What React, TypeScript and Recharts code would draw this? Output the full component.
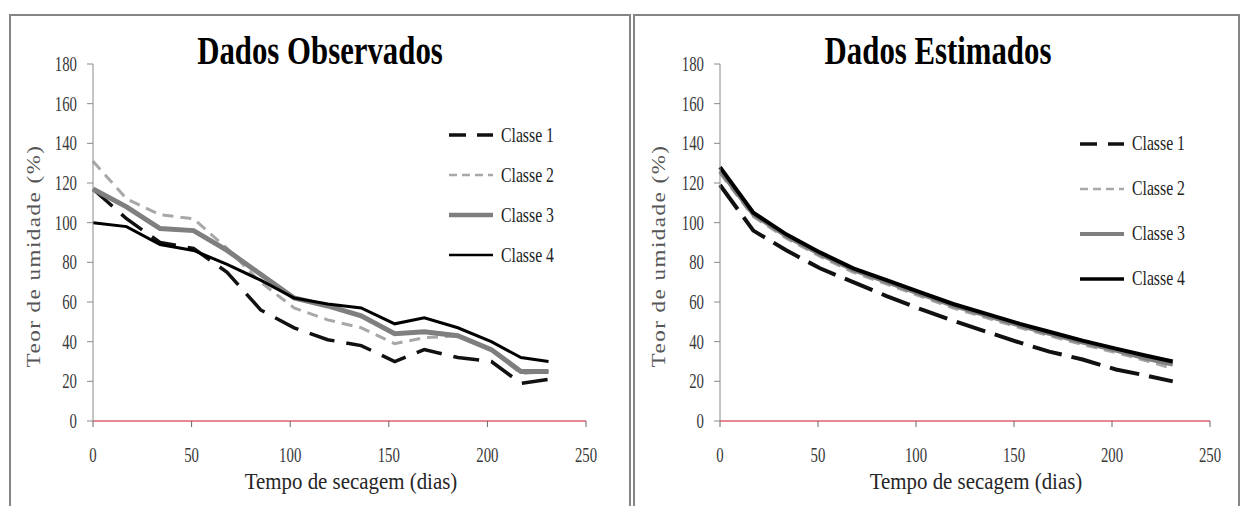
import React from 'react';
import { LineChart, Line, XAxis, YAxis, Legend } from 'recharts';

const days = [0, 17, 34, 51, 68, 85, 102, 119, 136, 153, 168, 185, 202, 217, 231];

const obsClasse1 = [117, 102, 90, 87, 75, 56, 47, 41, 38, 30, 36, 32, 30, 19, 21];
const obsClasse2 = [131, 112, 104, 102, 87, 70, 57, 51, 47, 39, 42, 43, 36, 24, 25];
const obsClasse3 = [117, 108, 97, 96, 86, 74, 62, 58, 53, 44, 45, 43, 36, 25, 25];
const obsClasse4 = [100, 98, 89, 86, 79, 71, 62, 59, 57, 49, 52, 47, 40, 32, 30];

const estClasse1 = [119, 96, 86, 77, 70, 63, 56.5, 50.5, 45, 39.5, 35, 31, 26, 23, 20];
const estClasse2 = [125, 103, 92, 83, 75, 69, 63, 57, 52, 47, 43, 38.5, 34.5, 30.5, 26.5];
const estClasse3 = [126, 104, 93, 84, 76, 70, 64, 58, 53, 48, 44, 39.5, 35.5, 31.5, 28.5];
const estClasse4 = [128, 105, 94, 85, 77, 71, 65, 59, 54, 49, 45, 40.5, 36.5, 33, 30];

const classNames = ['Classe 1', 'Classe 2', 'Classe 3', 'Classe 4'];
const xTicks = [0, 50, 100, 150, 200, 250];
const yTicks = [0, 20, 40, 60, 80, 100, 120, 140, 160, 180];

const obsData = days.map((d, i) => ({ x: d, c1: obsClasse1[i], c2: obsClasse2[i], c3: obsClasse3[i], c4: obsClasse4[i] }));
const estData = days.map((d, i) => ({ x: d, c1: estClasse1[i], c2: estClasse2[i], c3: estClasse3[i], c4: estClasse4[i] }));

const SERIF = '"Liberation Serif", "Times New Roman", serif';

type Style = { key: string; color: string; width: number; dash?: string; legendDash?: string; legendWidth: number };

const obsStyles: Style[] = [
  { key: 'c1', color: '#111111', width: 3.5, dash: '26 12', legendDash: '17 11', legendWidth: 3.5 },
  { key: 'c2', color: '#a8a8a8', width: 3, dash: '11 7', legendDash: '8 5', legendWidth: 2.5 },
  { key: 'c3', color: '#7f7f7f', width: 5, legendWidth: 4.5 },
  { key: 'c4', color: '#000000', width: 3, legendWidth: 2.5 },
];
const estStyles: Style[] = [
  { key: 'c1', color: '#111111', width: 4, dash: '30 10', legendDash: '17 11', legendWidth: 3.5 },
  { key: 'c2', color: '#a8a8a8', width: 3, dash: '11 7', legendDash: '8 5', legendWidth: 2.5 },
  { key: 'c3', color: '#7f7f7f', width: 4, legendWidth: 4 },
  { key: 'c4', color: '#000000', width: 4, legendWidth: 3.5 },
];

const XTick = (props: any) => {
  const { x, y, payload } = props;
  return (
    <text transform={`translate(${x},${y}) scale(0.74,1)`} textAnchor="middle" dy="0.71em"
      fontFamily={SERIF} fontSize={20} fill="#3a3a3a">{payload.value}</text>
  );
};
const YTick = (props: any) => {
  const { x, y, payload } = props;
  return (
    <text transform={`translate(${x},${y}) scale(0.74,1)`} textAnchor="end" dy="0.35em"
      fontFamily={SERIF} fontSize={20} fill="#3a3a3a">{payload.value}</text>
  );
};

const makeLegend = (styles: Style[], rowH: number) => () => (
  <div style={{ display: 'flex', flexDirection: 'column' }}>
    {styles.map((s, i) => (
      <div key={s.key} style={{ height: rowH, display: 'flex', alignItems: 'center' }}>
        <svg width={46} height={10} style={{ display: 'block' }}>
          <line x1={0} y1={5} x2={44} y2={5} stroke={s.color} strokeWidth={s.legendWidth} strokeDasharray={s.legendDash} />
        </svg>
        <span style={{ fontFamily: SERIF, fontSize: 21, color: '#222', marginLeft: 6, display: 'inline-block', transform: 'scaleX(0.75)', transformOrigin: 'left center', whiteSpace: 'nowrap' }}>{classNames[i]}</span>
      </div>
    ))}
  </div>
);

type PanelProps = {
  left: number; width: number; yAxisWidth: number; rightMargin: number;
  data: any[]; styles: Style[]; legendLeft: number; legendTop: number; legendRow: number;
};

const Panel = ({ left, width, yAxisWidth, rightMargin, data, styles, legendLeft, legendTop, legendRow }: PanelProps) => (
  <div style={{ position: 'absolute', left, top: 0 }}>
    <LineChart width={width} height={506} data={data} margin={{ top: 64, right: rightMargin, bottom: 0, left: 0 }}>
      <XAxis type="number" dataKey="x" domain={[0, 250]} ticks={xTicks} height={85}
        axisLine={{ stroke: '#e0606e', strokeWidth: 1.5 }} tickLine={{ stroke: '#666' }} tickSize={6} tickMargin={21}
        tick={<XTick />} interval={0} />
      <YAxis type="number" domain={[0, 180]} ticks={yTicks} width={yAxisWidth}
        axisLine={{ stroke: '#8a8a8a' }} tickLine={{ stroke: '#8a8a8a' }} tickSize={6} tickMargin={10}
        tick={<YTick />} interval={0} />
      <Legend layout="vertical" align="center" verticalAlign="middle"
        wrapperStyle={{ left: legendLeft - left, top: legendTop, width: 'auto' }}
        content={makeLegend(styles, legendRow)} />
      {styles.map((s, i) => (
        <Line key={s.key} type="linear" dataKey={s.key} name={classNames[i]} stroke={s.color} strokeWidth={s.width}
          strokeDasharray={s.dash} dot={false} activeDot={false} isAnimationActive={false} />
      ))}
    </LineChart>
  </div>
);

const TextBox = ({ cx, cy, w, h, children, style }: any) => (
  <div style={{ position: 'absolute', left: cx - w / 2, top: cy - h / 2, width: w, height: h, lineHeight: `${h}px`, textAlign: 'center', whiteSpace: 'nowrap', ...style }}>
    {children}
  </div>
);

export default function App() {
  return (
    <div style={{ position: 'absolute', left: 0, top: 0, width: 1241, height: 506, background: '#fff', overflow: 'hidden' }}>
      <div style={{ position: 'absolute', left: 9, top: 14, width: 618, height: 500, border: '2px solid #858585', borderBottom: 'none' }} />
      <div style={{ position: 'absolute', left: 633, top: 14, width: 603, height: 500, border: '2px solid #858585', borderBottom: 'none' }} />

      <Panel left={0} width={630} yAxisWidth={93} rightMargin={44} data={obsData} styles={obsStyles}
        legendLeft={449} legendTop={115} legendRow={40} />
      <Panel left={630} width={611} yAxisWidth={90} rightMargin={31} data={estData} styles={estStyles}
        legendLeft={1080} legendTop={121} legendRow={45} />

      <TextBox cx={320} cy={51} w={500} h={40} style={{ fontFamily: SERIF, fontSize: 40, fontWeight: 'bold', color: '#000', transform: 'scaleX(0.77)' }}>Dados Observados</TextBox>
      <TextBox cx={938} cy={51} w={500} h={40} style={{ fontFamily: SERIF, fontSize: 40, fontWeight: 'bold', color: '#000', transform: 'scaleX(0.77)' }}>Dados Estimados</TextBox>

      <TextBox cx={351} cy={481} w={400} h={26} style={{ fontFamily: SERIF, fontSize: 24, color: '#262626', transform: 'scaleX(0.87)' }}>Tempo de secagem (dias)</TextBox>
      <TextBox cx={976} cy={481} w={400} h={26} style={{ fontFamily: SERIF, fontSize: 24, color: '#262626', transform: 'scaleX(0.87)' }}>Tempo de secagem (dias)</TextBox>

      <TextBox cx={34} cy={256} w={300} h={26} style={{ fontFamily: SERIF, fontSize: 23, letterSpacing: 1.5, color: '#555', transform: 'rotate(-90deg) scaleY(0.8)' }}>Teor de umidade (%)</TextBox>
      <TextBox cx={659} cy={256} w={300} h={26} style={{ fontFamily: SERIF, fontSize: 23, letterSpacing: 1.5, color: '#555', transform: 'rotate(-90deg) scaleY(0.8)' }}>Teor de umidade (%)</TextBox>
    </div>
  );
}
